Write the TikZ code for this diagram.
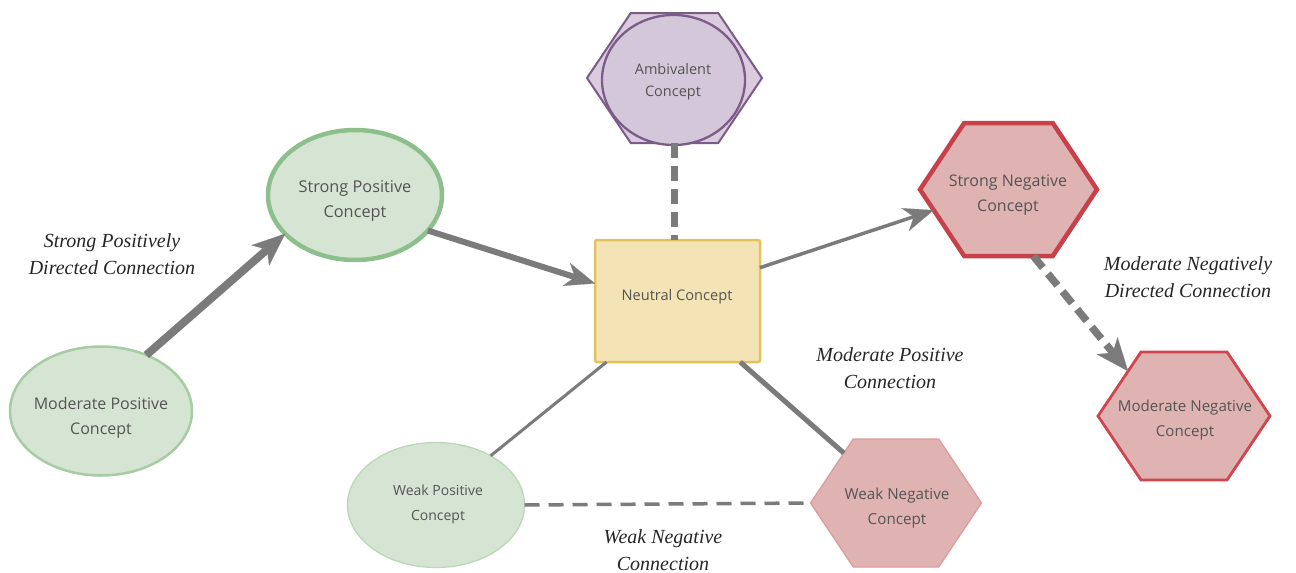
\documentclass[tikz,border=0pt]{standalone}
\usepackage{fontspec}
\setmainfont{Liberation Serif}
\newfontfamily\nodefont{Open Sans}
\usetikzlibrary{arrows.meta,calc,shapes.geometric}
\definecolor{greenfill}{HTML}{D6E5D3}
\definecolor{greenstrong}{HTML}{8DBF8C}
\definecolor{greenmod}{HTML}{A5CCA2}
\definecolor{greenweak}{HTML}{BAD7B7}
\definecolor{purplefill}{HTML}{DACBDE}
\definecolor{purpleinner}{HTML}{D4C7D9}
\definecolor{purpleline}{HTML}{7B5C88}
\definecolor{yellowfill}{HTML}{F3E3B5}
\definecolor{yellowline}{HTML}{E2C25C}
\definecolor{redfill}{HTML}{E0B3B3}
\definecolor{redstrong}{HTML}{C8404A}
\definecolor{redmod}{HTML}{CF464E}
\definecolor{redweak}{HTML}{DC9C9C}
\definecolor{linegray}{HTML}{7B7B7B}
\definecolor{textgray}{HTML}{545454}
\newcommand{\hexverts}[1]{%
  \coordinate (#1-tl) at ($(#1.north west)!0.25!(#1.north east)$);
  \coordinate (#1-tr) at ($(#1.north west)!0.75!(#1.north east)$);
  \coordinate (#1-bl) at ($(#1.south west)!0.25!(#1.south east)$);
  \coordinate (#1-br) at ($(#1.south west)!0.75!(#1.south east)$);
  \path[hexline] (#1.west) -- (#1-tl) -- (#1-tr) -- (#1.east) -- (#1-br) -- (#1-bl) -- cycle;}
\begin{document}
\begin{tikzpicture}[x=1pt,y=-1pt,
  hexbox/.style={rectangle, draw=none, inner sep=0pt, outer sep=0pt},
  ellbox/.style={ellipse, inner sep=0pt, outer sep=0pt, fill=greenfill},
  ctext/.style={font={\nodefont\fontsize{#1}{25}\selectfont}, text=textgray, align=center, inner sep=0pt},
  ctext/.default=15.5,
  lbl/.style={font={\itshape\fontsize{20}{26.5}\selectfont}, align=center, text=black!85, inner sep=0pt},
  conn/.style={draw=linegray},
  headbig/.style={-{Stealth[length=33pt,width=27pt,inset=9pt,line width=0.1pt]}},
  headmid/.style={-{Stealth[length=30pt,width=24pt,inset=9pt,line width=0.1pt]}},
  dashbig/.style={dash pattern=on 15pt off 8pt},
  dashsmall/.style={dash pattern=on 15pt off 9pt},
  hexline/.style={}]
\useasboundingbox (0,0) rectangle (1296,573);
\fill[white] (0,0) rectangle (1296,573);

% ellipses
\node[ellbox, draw=greenmod, line width=2.5pt, minimum width=182pt, minimum height=129pt] (mp) at (101,411) {};
\node[ellbox, draw=greenstrong, line width=4.5pt, minimum width=174pt, minimum height=130pt] (sp) at (355,195) {};
\node[ellbox, draw=greenweak, line width=1.3pt, minimum width=177pt, minimum height=125pt] (wp) at (436,505) {};

% neutral
\node[rectangle, fill=yellowfill, draw=yellowline, line width=2.5pt, rounded corners=2pt, minimum width=165pt, minimum height=122pt, inner sep=0pt, outer sep=0pt] (neu) at (677.5,301) {};

% hexagons
\node[hexbox, minimum width=175pt, minimum height=130pt] (amb) at (674.5,78) {};
\tikzset{hexline/.style={fill=purplefill, draw=purpleline, line width=2pt}}
\hexverts{amb}
\node[ellipse, fill=purpleinner, draw=purpleline, line width=2.3pt, minimum width=143pt, minimum height=130pt, inner sep=0pt] (ambin) at (673.5,80) {};

\node[hexbox, minimum width=177pt, minimum height=133pt] (sn) at (1008.5,189.5) {};
\tikzset{hexline/.style={fill=redfill, draw=redstrong, line width=4.5pt}}
\hexverts{sn}

\node[hexbox, minimum width=172pt, minimum height=128pt] (mn) at (1184,416) {};
\tikzset{hexline/.style={fill=redfill, draw=redmod, line width=2.8pt}}
\hexverts{mn}

\node[hexbox, minimum width=171pt, minimum height=128pt] (wn) at (896,503) {};
\tikzset{hexline/.style={fill=redfill, draw=redweak, line width=1.3pt}}
\hexverts{wn}

% node texts
\node[ctext=16] (mpt) at (101,418) {Moderate Positive\\Concept};
\node[ctext=16.3] (spt) at (355,201) {Strong Positive\\Concept};
\node[ctext=14] (wpt) at (438,504) {Weak Positive\\Concept};
\node[ctext=14.6] (neut) at (677,297) {Neutral Concept};
\node[font={\nodefont\fontsize{14.5}{22}\selectfont}, text=textgray, align=center, inner sep=0pt] (ambt) at (673,82) {Ambivalent\\Concept};
\node[ctext=16] (snt) at (1008,195) {Strong Negative\\Concept};
\node[ctext=15.1] (mnt) at (1185,420) {Moderate Negative\\Concept};
\node[ctext=15.2] (wnt) at (897,508) {Weak Negative\\Concept};

% connector end points on hexagons
\coordinate (snin) at ($(sn.west)!0.31!(sn-bl)$);
\coordinate (snout) at ($(sn.south west)!0.64!(sn.south east)$);
\coordinate (mnin) at ($(mn-tl)!0.3!(mn.west)$);
\coordinate (wnin) at ($(wn-tl)!0.22!(wn.west)$);
\coordinate (neubl) at ($(neu.south west)!0.07!(neu.south east)$);
\coordinate (neubr) at ($(neu.south west)!0.88!(neu.south east)$);

% connectors
\draw[conn, line width=8pt, headbig] (mp.51.5) -- (sp.209);
\draw[conn, line width=6pt, headmid] (sp.-26.3) -- (neu.168);
\draw[conn, line width=3.5pt, headmid] (neu.22) -- (snin);
\draw[conn, line width=7.5pt, dashbig] (amb.south) -- (amb.south |- neu.north);
\draw[conn, line width=7.5pt, dashbig, headbig] (snout) -- (mnin);
\draw[conn, line width=3pt] (neubl) -- (wp.42);
\draw[conn, line width=5pt] (neubr) -- (wnin);
\draw[conn, line width=3.5pt, dashsmall] (wp.east) -- (wn.west);

% labels
\node[lbl] (l1) at (112,254) {Strong Positively\\Directed Connection};
\node[lbl] (l2) at (890,368) {Moderate Positive\\Connection};
\node[lbl] (l3) at (1188,277) {Moderate Negatively\\Directed Connection};
\node[lbl] (l4) at (663,550) {Weak Negative\\Connection};
\end{tikzpicture}
\end{document}
